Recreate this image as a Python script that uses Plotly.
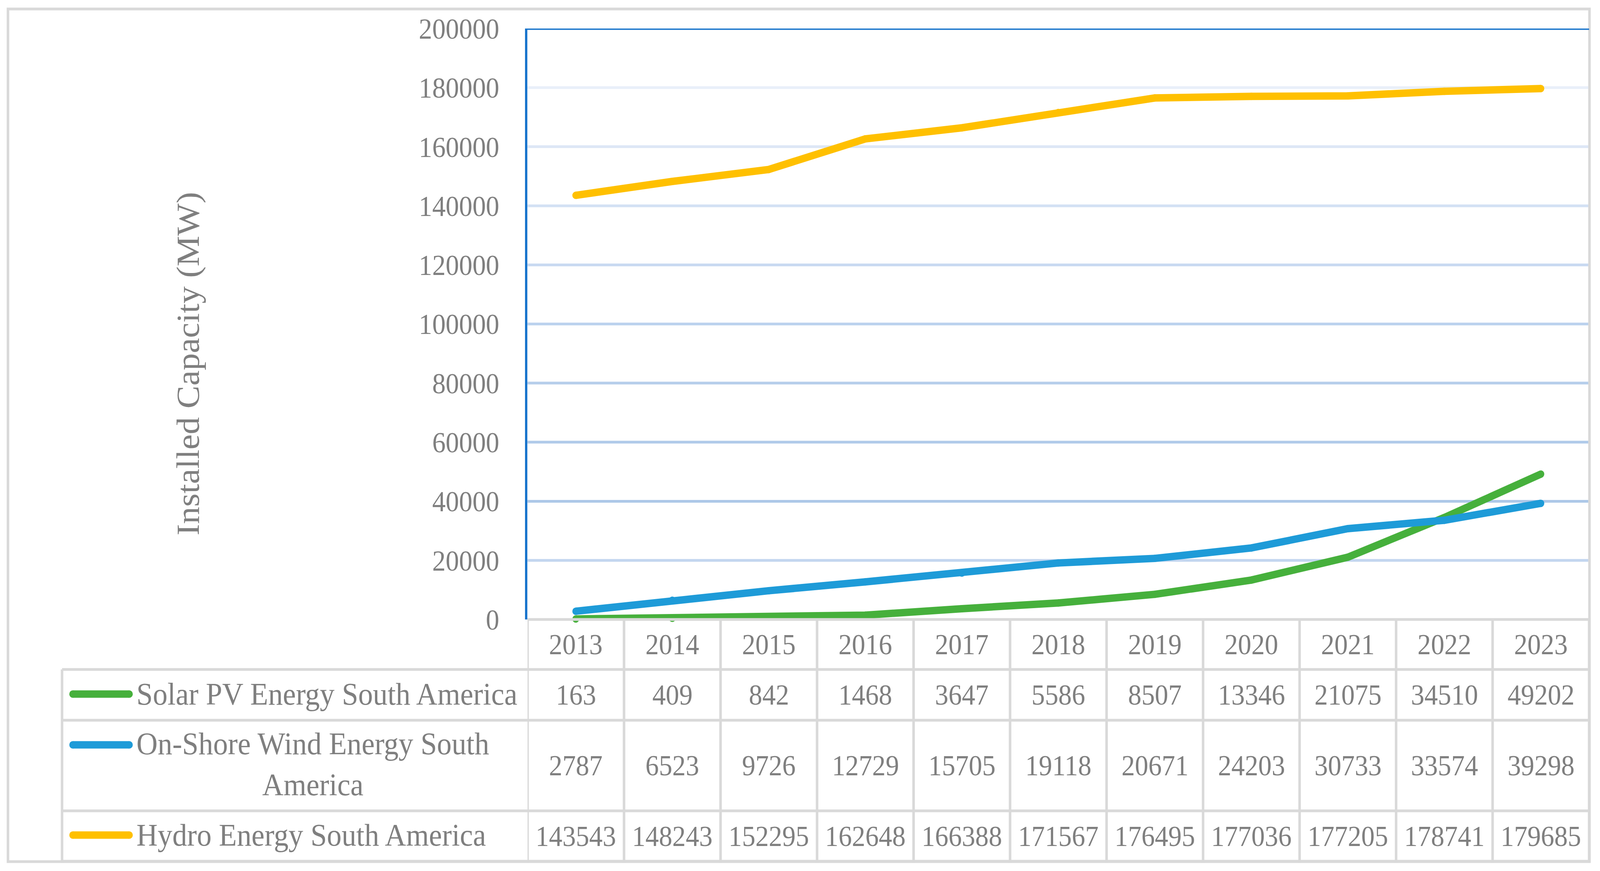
import plotly.graph_objects as go

# ---------------- data ----------------
years = [2013, 2014, 2015, 2016, 2017, 2018, 2019, 2020, 2021, 2022, 2023]
solar = [163, 409, 842, 1468, 3647, 5586, 8507, 13346, 21075, 34510, 49202]
wind = [2787, 6523, 9726, 12729, 15705, 19118, 20671, 24203, 30733, 33574, 39298]
hydro = [143543, 148243, 152295, 162648, 166388, 171567, 176495, 177036, 177205, 178741, 179685]
series_names = ["Solar PV Energy South America",
                "On-Shore Wind Energy South<br>America",
                "Hydro Energy South America"]
series_colors = ["#46b03c", "#1e9bd8", "#ffc000"]
y_ticks = [0, 20000, 40000, 60000, 80000, 100000, 120000, 140000, 160000, 180000, 200000]
grid_colors = {20000: "#c3d6ef", 40000: "#adc8e8", 60000: "#b0cae9", 80000: "#b6ceeb",
               100000: "#bcd2ee", 120000: "#c8d9f1", 140000: "#d3e1f4", 160000: "#dde7f6",
               180000: "#e9eff9"}
y_title = "Installed Capacity (MW)"

# ---------------- layout geometry (pixels) ----------------
W, H = 4410, 2230
PL, PR, PT, PB = 1454, 4380, 73, 1586
FONT = "Liberation Serif"
TXT = "#7f7f7f"
GRID = "#d9d9d9"
FRAME = "#1a75cc"
LW = 19

header_row = (1586, 1714)
rows = [(1714, 1844), (1844, 2076), (2076, 2205)]
marker_y = [1777, 1907, 2138]
key_x = (191, 366)
legend_left = 171
outer = (22, 23, 4381, 2206)


def px(X):
    return (X - PL) / (PR - PL)


def py(Y):
    return (PB - Y) / (PB - PT)


fig = go.Figure()
for vals, name, col in zip([solar, wind, hydro], series_names, series_colors):
    fig.add_trace(go.Scatter(x=years, y=vals, mode="lines+markers", name=name,
                             line=dict(color=col, width=LW),
                             marker=dict(color=col, size=LW, line=dict(width=0)),
                             showlegend=False, cliponaxis=False))

shapes = []
# gridlines
for v in y_ticks[1:-1]:
    shapes.append(dict(type="line", xref="paper", yref="y", x0=0, x1=1, y0=v, y1=v,
                       line=dict(color=grid_colors[v], width=7), layer="below"))
# top frame line
shapes.append(dict(type="line", xref="paper", yref="y", x0=px(PL - 3), x1=1, y0=y_ticks[-1], y1=y_ticks[-1],
                   line=dict(color=FRAME, width=7), layer="above"))
# outer border
shapes.append(dict(type="rect", xref="paper", yref="paper", x0=px(outer[0]), x1=px(outer[2]),
                   y0=py(outer[3]), y1=py(outer[1]), line=dict(color=GRID, width=7), layer="below"))
# table horizontal lines
shapes.append(dict(type="line", xref="paper", yref="paper", x0=0, x1=px(outer[2]),
                   y0=py(header_row[0]), y1=py(header_row[0]), line=dict(color=GRID, width=7)))
for yy in [rows[0][0], rows[1][0], rows[2][0], rows[2][1]]:
    shapes.append(dict(type="line", xref="paper", yref="paper", x0=px(legend_left), x1=px(outer[2]),
                       y0=py(yy), y1=py(yy), line=dict(color=GRID, width=7)))
# table vertical lines
shapes.append(dict(type="line", xref="paper", yref="paper", x0=px(legend_left), x1=px(legend_left),
                   y0=py(rows[0][0]), y1=py(rows[2][1]), line=dict(color=GRID, width=7)))
for yr in years + [years[-1] + 1]:
    shapes.append(dict(type="line", xref="x", yref="paper", x0=yr - 0.5, x1=yr - 0.5,
                       y0=py(header_row[0]), y1=py(rows[2][1]), line=dict(color=GRID, width=7)))
# legend keys (with round caps)
r = LW / 2
for my, col in zip(marker_y, series_colors):
    shapes.append(dict(type="line", xref="paper", yref="paper", x0=px(key_x[0] + r), x1=px(key_x[1] - r),
                       y0=py(my), y1=py(my), line=dict(color=col, width=LW)))
    for cx in (key_x[0] + r, key_x[1] - r):
        shapes.append(dict(type="circle", xref="paper", yref="paper", x0=px(cx - r), x1=px(cx + r),
                           y0=py(my + r), y1=py(my - r), fillcolor=col, line=dict(width=0)))

ann = []
# header years
for yr in years:
    ann.append(dict(xref="x", yref="paper", x=yr, y=py(sum(header_row) / 2), text=str(yr),
                    xanchor="center", yanchor="middle",
                    showarrow=False, font=dict(family=FONT, size=74, color=TXT)))
# values
for vals, (r0, r1) in zip([solar, wind, hydro], rows):
    for yr, v in zip(years, vals):
        ann.append(dict(xref="x", yref="paper", x=yr, y=py((r0 + r1) / 2), text=str(v),
                        xanchor="center", yanchor="middle",
                        showarrow=False, font=dict(family=FONT, size=74, color=TXT)))
# series labels
label_y = [1777, 1956, 2138]
for name, ly in zip(series_names, label_y):
    ann.append(dict(xref="paper", yref="paper", x=px(374), y=py(ly), text=name, xanchor="left",
                    yanchor="middle", align="center", showarrow=False,
                    font=dict(family=FONT, size=81, color=TXT)))
# y title
ann.append(dict(xref="paper", yref="paper", x=px(518), y=py(931), text=y_title, textangle=-90,
                xanchor="center", yanchor="middle",
                showarrow=False, font=dict(family=FONT, size=88, color=TXT)))

fig.update_layout(
    width=W, height=H,
    margin=dict(l=PL, r=W - PR, t=PT, b=H - PB, pad=0, autoexpand=False),
    paper_bgcolor="white", plot_bgcolor="white",
    shapes=shapes, annotations=ann, showlegend=False,
    xaxis=dict(range=[years[0] - 0.5, years[-1] + 0.5], showgrid=False, zeroline=False,
               showticklabels=False, showline=False, ticks=""),
    yaxis=dict(range=[0, 200000], tickvals=y_ticks, ticktext=[str(v) for v in y_ticks],
               showgrid=False, zeroline=False, showline=True, linecolor=FRAME, linewidth=7,
               ticks="", ticklabelstandoff=56,
               tickfont=dict(family=FONT, size=74, color=TXT)),
)

# fit the fixed-size figure into the browser viewport
fit_js = (
    "document.body.style.margin='0';document.body.style.overflow='hidden';"
    "var gd=document.getElementById('{plot_id}');"
    "var sx=window.innerWidth/%d, sy=window.innerHeight/%d;"
    "if(Math.abs(sx-1)>0.002||Math.abs(sy-1)>0.002){gd.style.transformOrigin='0 0';"
    "gd.style.transform='scale('+sx+','+sy+')';}" % (W, H)
)
fig.write_html("out.html", post_script=fit_js, config={"displayModeBar": False})
